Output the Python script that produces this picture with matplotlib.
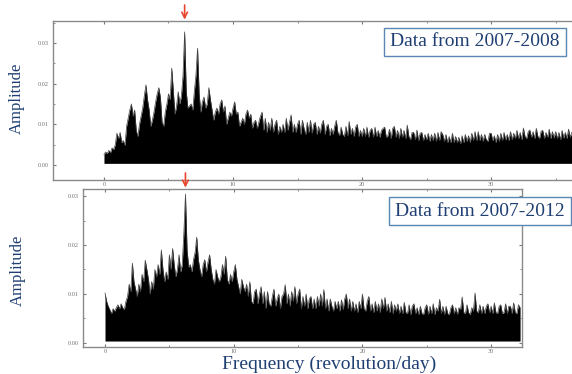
import numpy as np
import matplotlib
matplotlib.use("Agg")
import matplotlib.pyplot as plt
from matplotlib.ticker import MultipleLocator, FormatStrFormatter

# ---- data, amplitudes in units of 1e-3 ----
freq_step = 0.125
amp_2008_milli = [
    2.5, 3.2, 2.8, 3.6, 3.0, 4.2, 3.8, 5.0,
    7.8, 6.5, 8.0, 5.5, 6.0, 4.8, 9.5, 11.5,
    13.5, 15.0, 12.0, 13.5, 8.5, 7.0, 10.0, 12.0,
    14.0, 17.0, 19.7, 16.0, 13.5, 9.5, 11.0, 13.0,
    15.5, 17.5, 19.0, 16.5, 10.5, 9.5, 13.0, 15.0,
    17.5, 16.0, 23.8, 18.0, 12.5, 14.5, 18.0, 15.0,
    17.0, 22.0, 32.7, 18.0, 14.0, 14.5, 15.0, 13.5,
    18.0, 22.0, 28.7, 17.5, 13.0, 15.5, 16.7, 14.0,
    15.0, 19.0, 16.0, 13.5, 11.0, 13.0, 14.0, 12.5,
    15.0, 16.0, 13.0, 14.5, 10.0, 11.5, 13.0, 12.0,
    14.0, 15.5, 12.5, 13.0, 9.5, 10.5, 11.5, 10.0,
    12.5, 13.5, 11.5, 12.5, 9.0, 10.5, 11.0, 9.0,
    10.5, 12.0, 13.0, 8.5, 11.5, 8.0, 10.5, 8.5,
    11.5, 8.0, 10.0, 11.0, 7.5, 9.5, 8.0, 10.0,
    8.0, 11.5, 8.5, 10.5, 12.3, 8.0, 10.0, 8.0,
    10.0, 11.0, 7.5, 11.0, 9.0, 7.5, 10.5, 8.0,
    11.0, 7.8, 10.0, 10.5, 7.5, 9.5, 7.8, 10.0,
    11.0, 7.5, 9.5, 10.0, 7.2, 9.0, 7.5, 9.5,
    11.0, 8.0, 7.2, 9.3, 7.5, 7.0, 9.5, 7.2,
    10.7, 7.5, 9.0, 7.0, 9.3, 10.0, 7.0, 8.5,
    7.0, 9.0, 7.0, 9.3, 6.8, 8.5, 9.0, 6.8,
    9.3, 7.0, 8.5, 6.8, 8.5, 9.0, 9.3, 6.8,
    7.2, 8.8, 6.5, 9.0, 9.5, 6.8, 8.5, 6.5,
    9.0, 6.8, 8.5, 6.5, 9.8, 7.0, 6.2, 8.0,
    8.0, 6.2, 8.6, 6.0, 7.8, 8.0, 6.0, 7.5,
    6.2, 7.8, 5.8, 7.5, 6.0, 7.8, 5.8, 8.0,
    6.0, 8.2, 7.5, 5.8, 7.5, 5.5, 7.0, 5.5,
    7.8, 5.5, 7.0, 5.5, 6.8, 5.2, 7.2, 5.5,
    7.5, 5.8, 7.2, 5.5, 7.8, 6.0, 8.2, 6.0,
    8.2, 6.0, 7.5, 5.8, 7.5, 6.2, 5.8, 7.8,
    7.8, 6.0, 7.2, 5.5, 7.5, 5.8, 7.8, 6.0,
    8.0, 6.2, 7.5, 6.0, 8.2, 6.2, 7.8, 6.5,
    8.5, 6.5, 8.0, 6.2, 9.1, 7.0, 6.5, 8.2,
    8.6, 6.8, 8.2, 6.5, 9.0, 7.0, 6.5, 8.3,
    8.5, 6.5, 8.0, 6.8, 8.8, 6.5, 8.2, 6.6,
    8.2, 6.5, 8.0, 6.2, 8.5, 6.6, 8.0, 6.5,
    8.8, 6.8, 8.0,
]
amp_2012_milli = [
    10.2, 8.5, 7.5, 6.8, 6.0, 7.0, 6.5, 7.2,
    7.8, 7.0, 8.0, 7.2, 6.8, 8.5, 9.5, 12.0,
    10.5, 16.3, 12.5, 11.0, 9.5, 12.0, 10.5, 14.0,
    12.5, 16.9, 15.0, 13.0, 10.0, 12.5, 11.0, 15.0,
    13.5, 16.0, 14.0, 19.0, 15.0, 12.5, 14.5, 13.0,
    18.0, 15.0, 19.3, 16.0, 13.5, 15.0, 18.0, 14.5,
    16.0, 22.4, 30.4, 19.0, 15.5, 16.0, 14.5, 17.0,
    18.5, 21.6, 17.0, 15.0, 13.5, 16.0, 17.0, 14.5,
    16.5, 18.0, 15.0, 13.0, 12.0, 15.0, 13.5, 12.5,
    13.5, 16.0, 14.0, 17.7, 13.0, 12.0, 14.0, 12.5,
    14.5, 16.0, 13.0, 11.5, 10.0, 13.0, 11.5, 10.5,
    12.0, 9.5, 12.5, 8.5, 8.0, 10.5, 11.0, 8.0,
    10.0, 11.5, 8.0, 10.5, 7.0, 10.5, 8.0, 7.5,
    9.5, 11.0, 7.5, 9.0, 10.0, 7.0, 9.5, 10.0,
    11.9, 8.0, 10.0, 7.5, 10.5, 8.5, 11.5, 8.0,
    10.0, 11.0, 7.0, 9.5, 7.5, 10.0, 7.0, 9.0,
    9.5, 7.0, 9.0, 7.0, 9.5, 7.5, 10.0, 7.5,
    10.9, 7.0, 9.0, 6.5, 9.0, 7.5, 6.5, 8.5,
    7.0, 8.5, 6.5, 8.8, 6.8, 9.0, 10.0, 7.0,
    9.0, 6.5, 8.5, 6.5, 8.0, 6.2, 8.5, 7.0,
    10.0, 7.0, 6.5, 8.5, 9.5, 6.5, 8.0, 6.2,
    8.5, 6.5, 8.0, 6.2, 9.0, 7.0, 9.3, 6.5,
    8.0, 6.2, 8.5, 6.0, 7.8, 6.5, 8.0, 6.0,
    7.5, 6.0, 8.3, 6.2, 6.0, 7.8, 5.8, 7.5,
    8.0, 6.0, 7.2, 5.8, 7.5, 6.0, 5.8, 7.2,
    7.8, 5.8, 7.5, 6.0, 8.0, 5.8, 7.2, 6.5,
    8.9, 6.0, 7.5, 5.8, 7.5, 6.0, 5.8, 7.2,
    7.8, 6.0, 7.2, 5.8, 7.2, 6.8, 9.4, 6.2,
    6.0, 7.8, 6.2, 5.8, 7.2, 6.5, 10.2, 6.5,
    6.2, 7.8, 6.0, 7.5, 6.0, 7.5, 8.0, 6.2,
    7.5, 6.0, 8.2, 6.2, 6.0, 7.5, 7.8, 6.0,
    6.2, 8.0, 6.0, 7.5, 7.5, 6.0, 8.2, 6.2,
    6.0, 7.8, 7.2,
]
amp_2008 = np.array(amp_2008_milli) * 1e-3
amp_2012 = np.array(amp_2012_milli) * 1e-3
freq_2008 = np.arange(len(amp_2008)) * freq_step
freq_2012 = np.arange(len(amp_2012)) * freq_step
peak_freq = 6.25
label_2008 = "Data from 2007-2008"
label_2012 = "Data from 2007-2012"
y_label = "Amplitude"
x_label = "Frequency (revolution/day)"

W, H = 572, 374
fig = plt.figure(figsize=(W / 100, H / 100), dpi=100)
serif = ["Liberation Serif", "DejaVu Serif"]
navy = "#1f3f73"
spine_c = "#8a8a8a"

def px_axes(l, t, r, b):
    return fig.add_axes([l / W, 1 - b / H, (r - l) / W, (b - t) / H])

def style(ax):
    for s in ax.spines.values():
        s.set_color(spine_c)
        s.set_linewidth(1.0)
    ax.xaxis.set_major_locator(MultipleLocator(10))
    ax.xaxis.set_minor_locator(MultipleLocator(5))
    ax.yaxis.set_major_locator(MultipleLocator(0.01))
    ax.yaxis.set_minor_locator(MultipleLocator(0.005))
    ax.yaxis.set_major_formatter(FormatStrFormatter("%.2f"))
    ax.tick_params(which="both", direction="in", top=True, right=True,
                   color="#777777", labelsize=4.5, labelcolor="#707070", pad=3)
    ax.tick_params(axis="x", which="major", pad=1.5)
    ax.tick_params(which="major", length=2.5, width=0.8)
    ax.tick_params(which="minor", length=1.5, width=0.6)
    for lab in ax.get_xticklabels() + ax.get_yticklabels():
        lab.set_family(serif)

def draw(ax, f, a):
    ax.fill_between(f, 0.0004, a, color="black", lw=0)
    ax.plot(f, a, color="#404040", lw=0.5)

# top panel
ax1 = px_axes(53, 21, 575, 180)
draw(ax1, freq_2008, amp_2008)
ax1.set_xlim(-3.95, 36.5)
ax1.set_ylim(-0.00369, 0.03538)
style(ax1)

# bottom panel
ax2 = px_axes(83, 189, 522, 347)
draw(ax2, freq_2012, amp_2012)
ax2.set_xlim(-1.71, 32.40)
ax2.set_ylim(-0.00082, 0.03143)
style(ax2)

# red arrows
for ax in (ax1, ax2):
    ax.annotate("", xy=(peak_freq, 1.0), xycoords=("data", "axes fraction"),
                xytext=(0, 16), textcoords="offset pixels",
                arrowprops=dict(arrowstyle="->", color="#e8452c", lw=1.2,
                                shrinkA=0, shrinkB=1, mutation_scale=10),
                annotation_clip=False)

# boxes
box = dict(boxstyle="square,pad=0.3", fc="white", ec="#5b87b5", lw=1.0)
fig.text(475 / W, 1 - 42 / H, label_2008, ha="center", va="center",
         fontsize=14, family=serif, color=navy, bbox=box)
fig.text(480 / W, 1 - 211 / H, label_2012, ha="center", va="center",
         fontsize=14, family=serif, color=navy, bbox=box)

# axis labels
fig.text(17 / W, 1 - 98 / H, y_label, rotation=90, ha="center", va="center",
         fontsize=12, family=serif, color=navy)
fig.text(18 / W, 1 - 270 / H, y_label, rotation=90, ha="center", va="center",
         fontsize=12, family=serif, color=navy)
fig.text(329 / W, 1 - 373 / H, x_label, ha="center", va="bottom",
         fontsize=14, family=serif, color=navy)

fig.savefig("out.png", dpi=100)
